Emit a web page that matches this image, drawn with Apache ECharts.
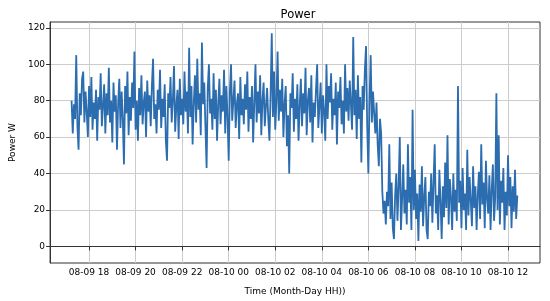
<!DOCTYPE html>
<html>
<head>
<meta charset="utf-8">
<script src="https://cdn.jsdelivr.net/npm/echarts@6/dist/echarts.min.js"></script>
<style>html,body{margin:0;padding:0;background:#fff}#c{width:550px;height:301px}</style>
</head>
<body>
<div id="c"></div>
<script>
// Time in hours since 08-09 00:00; samples every 3 minutes
const startHour = 17.25;
const stepHour = 0.05;
const tickHours = [18, 20, 22, 24, 26, 28, 30, 32, 34, 36];
const tickLabels = ['08-09 18','08-09 20','08-09 22','08-10 00','08-10 02','08-10 04','08-10 06','08-10 08','08-10 10','08-10 12'];
const yTicks = [0, 20, 40, 60, 80, 100, 120];
const powerW = [
80,62,78,70,105,66,53,84,72,92,
96,68,85,74,60,88,71,93,64,79,
70,86,58,82,75,95,66,77,89,62,
84,72,98,68,80,57,90,74,83,53,
78,92,65,85,70,45,88,73,96,61,
82,69,90,76,107,64,80,58,87,72,
94,67,79,85,60,91,74,83,66,88,
103,70,78,62,86,75,97,65,81,71,
89,58,47,84,76,93,68,80,99,63,
77,86,59,92,72,81,67,96,74,85,
62,109,71,88,56,79,94,68,103,75,
84,61,112,78,90,66,43,87,100,73,
81,64,95,70,86,58,78,92,67,83,
74,97,62,88,71,47,85,100,69,80,
91,65,78,84,59,93,72,81,67,89,
75,96,63,82,70,88,57,79,100,68,
85,73,94,61,80,90,66,77,87,70,
58,83,117,71,96,64,80,107,69,86,
74,92,60,78,88,55,72,40,84,76,
95,63,81,70,89,58,77,92,66,84,
73,98,61,80,87,68,94,57,79,71,
86,100,65,77,90,62,83,74,58,100,
70,88,79,95,64,81,72,90,56,85,
76,93,67,80,62,100,74,87,69,91,
78,64,115,72,86,59,94,70,82,46,
88,75,97,110,66,40,80,105,68,85,
73,62,79,56,44,70,62,30,
18,25,12,30,22,56,15,35,10,4,
28,40,14,33,60,9,26,45,18,31,
12,56,24,38,9,75,20,42,15,29,
3,34,19,44,11,27,38,9,4,30,
22,40,13,35,56,18,28,9,42,25,
4,33,16,46,21,61,12,37,27,9,
40,19,31,14,88,24,36,10,43,20,
29,9,53,17,38,25,11,44,21,33,
9,28,41,15,56,23,35,10,47,26,
18,39,9,31,45,14,27,84,20,61,
12,36,24,43,9,30,17,50,22,38,
10,33,19,42,15,28
];
const seriesData = powerW.map((v, i) => [startHour + i * stepHour, v]);
const font = 'DejaVu Sans';
const chart = echarts.init(document.getElementById('c'), null, {renderer: 'canvas'});
chart.setOption({
  animation: false,
  backgroundColor: '#fff',
  title: {
    text: 'Power', left: 293, top: 4, textAlign: 'center',
    textStyle: {fontFamily: font, fontSize: 11.5, fontWeight: 'normal', color: '#000'}
  },
  grid: {left: 46, right: 10, top: 22, bottom: 33, show: true, borderColor: '#333', borderWidth: 1, backgroundColor: 'transparent'},
  xAxis: {
    type: 'value', min: 16.326, max: 37.374,
    name: 'Time (Month-Day HH))', nameLocation: 'middle', nameGap: 24,
    nameTextStyle: {fontFamily: font, fontSize: 9, color: '#000'},
    axisLine: {show: true, lineStyle: {color: '#333', width: 1}},
    axisTick: {show: true, inside: false, length: 4, lineStyle: {color: '#333'}, customValues: tickHours},
    axisLabel: {customValues: tickHours, fontFamily: font, fontSize: 9, color: '#000', margin: 5,
      formatter: v => tickLabels[tickHours.indexOf(Math.round(v))] || ''},
    splitLine: {show: true, lineStyle: {color: '#cccccc', width: 1}}
  },
  yAxis: {
    type: 'value', min: -9.15, max: 123.2,
    name: 'Power W', nameLocation: 'middle', nameGap: 28, nameRotate: 90,
    nameTextStyle: {fontFamily: font, fontSize: 9, color: '#000'},
    axisLine: {show: true, lineStyle: {color: '#333', width: 1}},
    axisTick: {show: true, inside: false, length: 4, lineStyle: {color: '#333'}, customValues: yTicks},
    axisLabel: {customValues: yTicks, fontFamily: font, fontSize: 9, color: '#000', margin: 5},
    splitLine: {show: true, lineStyle: {color: '#cccccc', width: 1}}
  },
  series: [{
    type: 'line', data: seriesData, showSymbol: false, symbol: 'none', sampling: null,
    lineStyle: {color: '#2c6db0', width: 1.8}, clip: true
  }]
});
</script>
</body>
</html>
